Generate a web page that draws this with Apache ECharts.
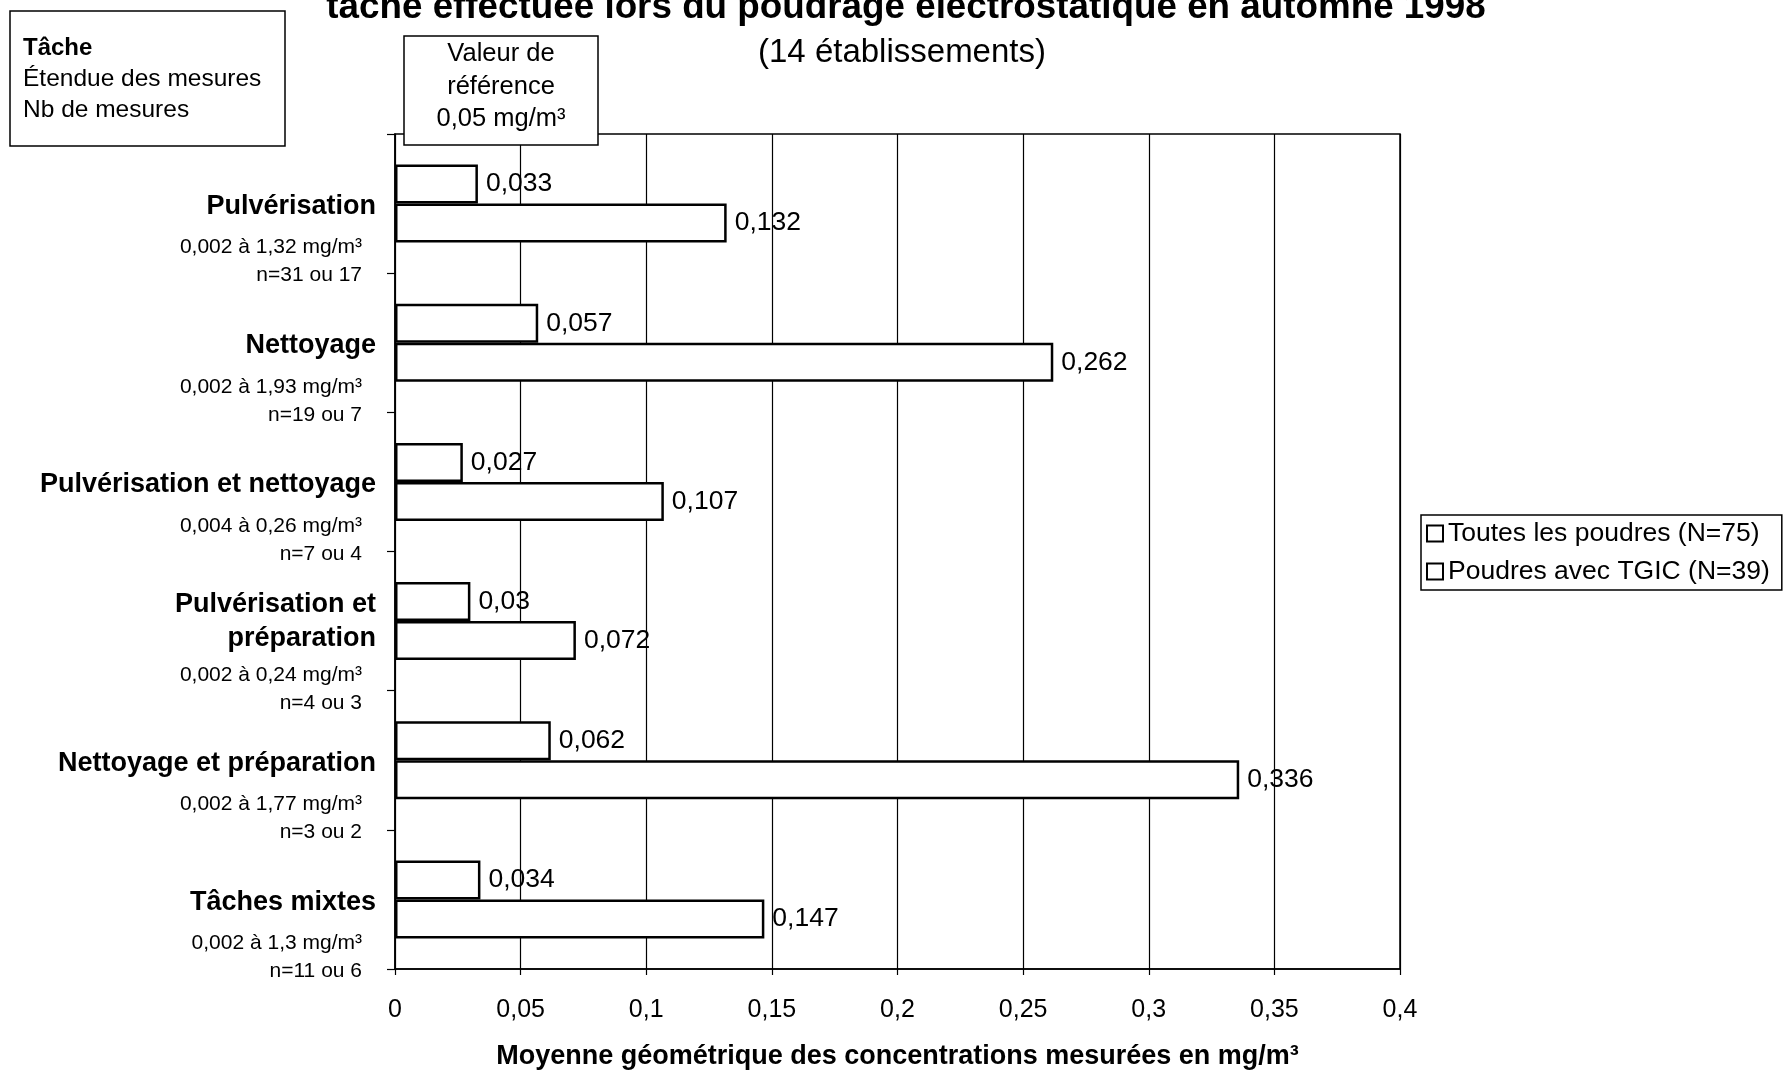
<!DOCTYPE html>
<html>
<head>
<meta charset="utf-8">
<script src="https://cdn.jsdelivr.net/npm/echarts@6/dist/echarts.min.js"></script>
<style>
  html, body { margin: 0; padding: 0; background: #fff; }
  #chart { width: 1785px; height: 1071px; }
</style>
</head>
<body>
<div id="chart"></div>
<script>
// Tâches (top to bottom), étendue et nombre de mesures
const categories = ['Pulvérisation', 'Nettoyage', 'Pulvérisation et nettoyage', 'Pulvérisation et\npréparation', 'Nettoyage et préparation', 'Tâches mixtes'];
const ranges = ['0,002 à 1,32 mg/m³', '0,002 à 1,93 mg/m³', '0,004 à 0,26 mg/m³', '0,002 à 0,24 mg/m³', '0,002 à 1,77 mg/m³', '0,002 à 1,3 mg/m³'];
const counts = ['n=31 ou 17', 'n=19 ou 7', 'n=7 ou 4', 'n=4 ou 3', 'n=3 ou 2', 'n=11 ou 6'];

// Moyennes géométriques (mg/m³)
const seriesNames = ['Toutes les poudres (N=75)', 'Poudres avec TGIC (N=39)'];
const allPowders = [0.033, 0.057, 0.027, 0.03, 0.062, 0.034];
const tgicPowders = [0.132, 0.262, 0.107, 0.072, 0.336, 0.147];

// Axe des concentrations
const xMin = 0, xMax = 0.4, xStep = 0.05;

const FONT = '"Liberation Sans", Arial, Helvetica, sans-serif';
const comma = v => String(v).replace('.', ',');

const chart = echarts.init(document.getElementById('chart'), null, { renderer: 'canvas' });

const barStyle = { color: '#ffffff', borderColor: '#000000', borderWidth: 2.5 };
const barLabel = {
  show: true, position: 'right', distance: 8,
  color: '#000', fontFamily: FONT, fontSize: 26.5,
  formatter: p => comma(p.value)
};

// Category label: bold task name centred on the band, range and count below it
function taskLabel(value, idx) {
  const lines = value.split('\n');
  const k = lines.length > 1 ? '2' : '1';
  const nameLines = lines.map(s => '{name|' + s + '}').join('\n');
  return '{pad' + k + '| }\n' + nameLines + '\n{gap' + k + '| }\n{sub|' + ranges[idx] + '}\n{sub|' + counts[idx] + '}';
}

chart.setOption({
  backgroundColor: '#ffffff',
  animation: false,
  textStyle: { fontFamily: FONT, color: '#000' },
  grid: {
    left: 395, right: 385, top: 134, bottom: 102,
    outerBoundsMode: 'none', containLabel: false,
    show: true, borderColor: '#000', borderWidth: 1.5, backgroundColor: 'transparent'
  },
  legend: {
    orient: 'vertical', left: 1421, top: 515,
    data: seriesNames,
    icon: 'rect', itemWidth: 16, itemHeight: 16, itemGap: 11, itemTextGap: 12,
    padding: [5, 12, 5, 5],
    borderColor: '#000', borderWidth: 1.5, backgroundColor: '#fff',
    itemStyle: { borderWidth: 2 },
    textStyle: { fontFamily: FONT, fontSize: 26.5, color: '#000' }
  },
  xAxis: {
    type: 'value', min: xMin, max: xMax, interval: xStep,
    name: 'Moyenne géométrique des concentrations mesurées en mg/m³',
    nameLocation: 'middle', nameGap: 74,
    nameTextStyle: { fontFamily: FONT, fontSize: 27, fontWeight: 'bold', color: '#000' },
    axisLine: { show: true, lineStyle: { color: '#000', width: 1.5 } },
    axisTick: { show: true, length: 6, lineStyle: { color: '#000', width: 1.2 } },
    axisLabel: { margin: 29, fontFamily: FONT, fontSize: 25, color: '#000', formatter: v => comma(+v.toFixed(2)) },
    splitLine: { show: true, lineStyle: { color: '#000', width: 1.2 } }
  },
  yAxis: {
    type: 'category', inverse: true, data: categories,
    axisLine: { show: true, lineStyle: { color: '#000', width: 1.5 } },
    axisTick: { show: true, length: 8, lineStyle: { color: '#000', width: 1.2 } },
    splitLine: { show: false },
    axisLabel: {
      margin: 19, interval: 0, color: '#000', fontFamily: FONT,
      formatter: taskLabel,
      rich: {
        pad1: { fontSize: 1, lineHeight: 72 },
        gap1: { fontSize: 1, lineHeight: 10 },
        pad2: { fontSize: 1, lineHeight: 62 },
        gap2: { fontSize: 1, lineHeight: 6 },
        name: { fontFamily: FONT, fontSize: 27, fontWeight: 'bold', lineHeight: 34, color: '#000' },
        sub: { fontFamily: FONT, fontSize: 21, lineHeight: 28, color: '#000', padding: [0, 14, 0, 0] }
      }
    }
  },
  series: [
    { name: seriesNames[0], type: 'bar', data: allPowders, barGap: '0%', barCategoryGap: '44%', itemStyle: barStyle, label: barLabel },
    { name: seriesNames[1], type: 'bar', data: tgicPowders, barGap: '0%', barCategoryGap: '44%', itemStyle: barStyle, label: barLabel }
  ],
  graphic: [
    { type: 'text', z: 100, x: 906, y: 26, style: { text: 'tache effectuée lors du poudrage électrostatique en automne 1998', font: 'bold 36.8px ' + FONT, fill: '#000', align: 'center', verticalAlign: 'bottom' } },
    { type: 'text', z: 100, x: 902, y: 53, style: { text: '(14 établissements)', font: '33px ' + FONT, fill: '#000', align: 'center', verticalAlign: 'middle' } },
    { type: 'rect', z: 100, shape: { x: 10, y: 11, width: 275, height: 135 }, style: { fill: '#fff', stroke: '#000', lineWidth: 1.5 } },
    { type: 'text', z: 101, x: 23, y: 48, style: { text: 'Tâche', font: 'bold 24px ' + FONT, fill: '#000', verticalAlign: 'middle' } },
    { type: 'text', z: 101, x: 23, y: 79, style: { text: 'Étendue des mesures', font: '24.5px ' + FONT, fill: '#000', verticalAlign: 'middle' } },
    { type: 'text', z: 101, x: 23, y: 110, style: { text: 'Nb de mesures', font: '24.5px ' + FONT, fill: '#000', verticalAlign: 'middle' } },
    { type: 'rect', z: 100, shape: { x: 404, y: 36, width: 194, height: 109 }, style: { fill: '#fff', stroke: '#000', lineWidth: 1.5 } },
    { type: 'text', z: 101, x: 501, y: 54, style: { text: 'Valeur de', font: '25.5px ' + FONT, fill: '#000', align: 'center', verticalAlign: 'middle' } },
    { type: 'text', z: 101, x: 501, y: 87, style: { text: 'référence', font: '25.5px ' + FONT, fill: '#000', align: 'center', verticalAlign: 'middle' } },
    { type: 'text', z: 101, x: 501, y: 119, style: { text: '0,05 mg/m³', font: '25.5px ' + FONT, fill: '#000', align: 'center', verticalAlign: 'middle' } }
  ]
});
</script>
</body>
</html>
